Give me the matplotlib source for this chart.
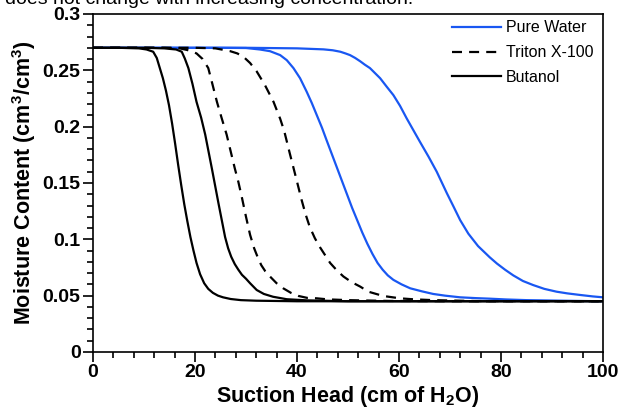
import matplotlib
matplotlib.use("Agg")
from matplotlib import pyplot as plt
from matplotlib.ticker import MultipleLocator, FixedLocator

plt.rcParams['font.family'] = ['Liberation Sans', 'DejaVu Sans']
plt.rcParams['mathtext.fontset'] = 'custom'
plt.rcParams['mathtext.rm'] = 'Liberation Sans:bold'
plt.rcParams['mathtext.bf'] = 'Liberation Sans:bold'

# 读图得到的数据点 (suction head cm, moisture content)
water1_x = [0, 25, 30, 32.7, 34.7, 36.7, 38.0, 39.3, 40.6, 41.9, 42.9, 43.9, 44.9, 45.8, 46.8, 47.8, 48.8, 49.8,
            50.8, 51.8, 52.8, 53.8, 54.8, 55.8, 56.8, 57.8, 58.9, 60.5, 62.2, 64.5, 66.7, 69, 72, 75, 77.8, 81, 85,
            92, 100]
water1_y = [0.27, 0.27, 0.2698, 0.2685, 0.267, 0.2635, 0.259, 0.252, 0.243, 0.231, 0.221, 0.210, 0.199, 0.188,
            0.176, 0.164, 0.152, 0.140, 0.128, 0.117, 0.106, 0.096, 0.087, 0.079, 0.073, 0.068, 0.064, 0.060,
            0.0565, 0.0538, 0.0515, 0.050, 0.0485, 0.0478, 0.0473, 0.0466, 0.046, 0.0455, 0.045]

water2_x = [0, 30, 40, 45.2, 47, 48.5, 49.5, 50.4, 51.4, 52.4, 53.3, 54.3, 56.3, 57.6, 58.9, 60.2, 61.5, 62.8, 64.1,
            65.8, 67.4, 69.4, 70.7, 72.0, 73.6, 75.5, 77.8, 79.2, 80.8, 82.4, 84.3, 86.3, 88.5, 90.9, 93, 95.5, 98,
            100]
water2_y = [0.27, 0.27, 0.2695, 0.2686, 0.2678, 0.2665, 0.265, 0.2635, 0.261, 0.258, 0.255, 0.252, 0.243, 0.2354,
            0.228, 0.2185, 0.2074, 0.197, 0.1866, 0.1733, 0.160, 0.1408, 0.129, 0.117, 0.105, 0.094, 0.084, 0.0785,
            0.073, 0.068, 0.063, 0.0594, 0.056, 0.0535, 0.052, 0.0506, 0.0493, 0.0485]

triton1_x = [0, 14, 17, 18.5, 19.5, 20.3, 21.5, 22.6, 23.4, 24.3, 25.2, 26.2, 27.0, 27.8, 28.5, 29.2, 30.0, 30.8,
             31.6, 32.3, 33.0, 33.8, 34.7, 36, 37.3, 38.8, 40.3, 42, 43.9, 46, 50, 58, 70, 100]
triton1_y = [0.27, 0.27, 0.2695, 0.268, 0.2665, 0.265, 0.26, 0.252, 0.238, 0.222, 0.208, 0.193, 0.178, 0.163, 0.151,
             0.137, 0.120, 0.104, 0.092, 0.084, 0.077, 0.0715, 0.067, 0.061, 0.0565, 0.0525, 0.0497, 0.048, 0.0476,
             0.0467, 0.046, 0.0453, 0.045, 0.045]

triton2_x = [0, 20, 24, 26.9, 28.3, 29.5, 30.8, 32.1, 33.7, 35.4, 36.7, 37.5, 38.6, 39.9, 40.9, 41.7, 42.5, 43.5,
             44.5, 45.5, 46.5, 47.8, 49.1, 50.7, 52.4, 54, 56.9, 60.2, 63, 66.7, 75, 100]
triton2_y = [0.27, 0.27, 0.2695, 0.267, 0.265, 0.262, 0.2565, 0.249, 0.237, 0.222, 0.207, 0.196, 0.176, 0.153, 0.135,
             0.122, 0.111, 0.101, 0.093, 0.086, 0.079, 0.0725, 0.067, 0.062, 0.058, 0.0535, 0.0497, 0.0476, 0.0467,
             0.046, 0.0452, 0.045]

butanol1_x = [0, 5, 9, 10.5, 11.8, 12.5, 13.1, 13.7, 14.3, 14.9, 15.5, 16.1, 16.7, 17.3, 17.9, 18.5, 19.1, 19.7,
              20.3, 21.0, 21.8, 22.6, 23.5, 24.5, 25.5, 27, 29, 32, 40, 60, 80, 100]
butanol1_y = [0.27, 0.27, 0.2695, 0.2685, 0.2665, 0.261, 0.252, 0.243, 0.232, 0.219, 0.203, 0.185, 0.166, 0.148,
              0.131, 0.116, 0.102, 0.090, 0.079, 0.069, 0.061, 0.056, 0.0525, 0.050, 0.0485, 0.047, 0.046, 0.0455,
              0.045, 0.045, 0.045, 0.045]

butanol2_x = [0, 10, 14, 15.1, 16.3, 17.4, 18.0, 18.7, 19.5, 20.3, 21.2, 22.0, 23.3, 24.6, 25.9, 26.5, 27.1, 27.8,
              28.5, 29.2, 30.0, 30.8, 32.1, 33.5, 35.3, 38, 42, 50, 100]
butanol2_y = [0.27, 0.27, 0.2695, 0.269, 0.2685, 0.2665, 0.2605, 0.252, 0.238, 0.222, 0.208, 0.193, 0.163, 0.132,
              0.102, 0.092, 0.0845, 0.078, 0.073, 0.0685, 0.065, 0.061, 0.055, 0.0515, 0.049, 0.0468, 0.0458, 0.045,
              0.045]

ytick_vals = [0, 0.05, 0.1, 0.15, 0.2, 0.25, 0.3]
ytick_labels = ['0', '0.05', '0.1', '0.15', '0.2', '0.25', '0.3']
legend_names = ['Pure Water', 'Triton X-100', 'Butanol']

blue = '#1957f2'
lw = 1.6
dash = (4.5, 3.2)

fig = plt.figure(figsize=(6.18, 4.19), dpi=100)
ax = fig.add_axes([0.1505, 0.160, 0.8252, 0.8066])

l1, = ax.plot(water1_x, water1_y, color=blue, lw=lw)
ax.plot(water2_x, water2_y, color=blue, lw=lw)
l2, = ax.plot(triton1_x, triton1_y, color='black', lw=lw, dashes=dash)
ax.plot(triton2_x, triton2_y, color='black', lw=lw, dashes=dash)
l3, = ax.plot(butanol1_x, butanol1_y, color='black', lw=lw)
ax.plot(butanol2_x, butanol2_y, color='black', lw=lw)

ax.set_xlim(0, 100)
ax.set_ylim(0, 0.3)
ax.xaxis.set_major_locator(MultipleLocator(20))
ax.xaxis.set_minor_locator(MultipleLocator(4))
ax.yaxis.set_major_locator(FixedLocator(ytick_vals))
ax.yaxis.set_minor_locator(MultipleLocator(0.01))
ax.set_yticklabels(ytick_labels)
ax.tick_params(which='major', direction='out', length=7, width=1.2, labelsize=14, pad=2)
ax.tick_params(which='minor', direction='out', length=4.5, width=1.2)
for lab in ax.get_xticklabels() + ax.get_yticklabels():
    lab.set_fontweight('bold')
for sp in ax.spines.values():
    sp.set_linewidth(1.2)

ax.set_xlabel('Suction Head (cm of H$_\\mathbf{2}$O)', fontsize=15.5, fontweight='bold', labelpad=2)
ax.set_ylabel('Moisture Content (cm$^\\mathbf{3}$/cm$^\\mathbf{3}$)', fontsize=15.5, fontweight='bold', labelpad=3)

ax.legend([l1, l2, l3], legend_names, loc='upper right', frameon=False, fontsize=11.5,
          handlelength=3.1, handletextpad=0.3, labelspacing=0.62,
          bbox_to_anchor=(1.0, 1.01), borderaxespad=0.2)

# 上方被截断的图注
fig.text(0.008, 1 - 4 / 419, 'does not change with increasing concentration.', fontsize=14,
         ha='left', va='baseline')

fig.savefig('out.png', dpi=100)
